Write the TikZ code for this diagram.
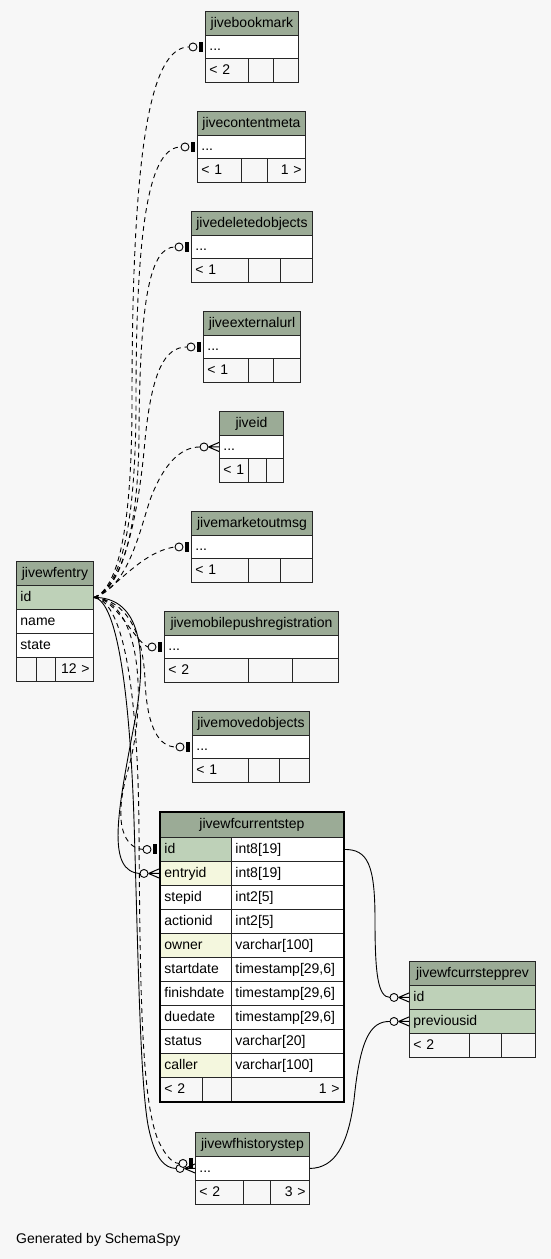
\documentclass[tikz,border=0pt]{standalone}
\usepackage{fontspec}
\setmainfont{Liberation Sans}
\definecolor{bg}{RGB}{247,247,247}
\definecolor{hdr}{RGB}{155,171,150}
\definecolor{pk}{RGB}{190,209,184}
\definecolor{fk}{RGB}{244,247,222}
\newcommand\cell[8]{%
  \pgfmathsetmacro\cellw{#4-8}%
  \node[cellbox,#6,minimum width=#4pt,minimum height=#5pt,text width=\cellw pt,align=#7] (#1) at (#2,#3) {#8};}
\tikzset{
  cellbox/.style={anchor=north west,draw=black!85,line width=0.9pt,inner xsep=4pt,inner ysep=0pt,
    text height=11pt,text depth=3pt,font=\fontsize{14}{16}\selectfont},
  hdrc/.style={fill=hdr},
  rowc/.style={fill=white},
  footc/.style={fill=bg},
  pkc/.style={fill=pk},
  fkc/.style={fill=fk},
  rel/.style={line width=0.9pt},
  implied/.style={rel,dash pattern=on 5pt off 4pt},
  zeroone/.pic={\fill (-6,-5) rectangle (-2.5,5); \draw[line width=0.9pt,fill=bg] (-12,0) circle[radius=4pt];},
  zeromany/.pic={\draw[line width=1pt] (-10.5,0) -- (0,-4.5) (-10.5,0) -- (0,0) (-10.5,0) -- (0,4.5);
                 \draw[line width=0.9pt,fill=bg] (-15,0) circle[radius=4pt];}
}
\begin{document}
\begin{tikzpicture}[x=1pt,y=-1pt]
\useasboundingbox[fill=bg] (0,0) rectangle (551,1259);
% jivebookmark
\cell{bm-h}{205}{11}{93}{24}{hdrc}{center}{jivebookmark}
\cell{bm-r}{205}{35}{93}{23}{rowc}{left}{...}
\cell{bm-f1}{205}{58}{43}{24}{footc}{left}{< 2}
\cell{bm-f2}{248}{58}{25}{24}{footc}{left}{}
\cell{bm-f3}{273}{58}{25}{24}{footc}{left}{}
% jivecontentmeta
\cell{cm-h}{197}{111}{108}{24}{hdrc}{center}{jivecontentmeta}
\cell{cm-r}{197}{135}{108}{23}{rowc}{left}{...}
\cell{cm-f1}{197}{158}{44}{24}{footc}{left}{< 1}
\cell{cm-f2}{241}{158}{26}{24}{footc}{left}{}
\cell{cm-f3}{267}{158}{38}{24}{footc}{right}{1 >}
% jivedeletedobjects
\cell{do-h}{191}{211}{121}{24}{hdrc}{center}{jivedeletedobjects}
\cell{do-r}{191}{235}{121}{23}{rowc}{left}{...}
\cell{do-f1}{191}{258}{57}{24}{footc}{left}{< 1}
\cell{do-f2}{248}{258}{32}{24}{footc}{left}{}
\cell{do-f3}{280}{258}{32}{24}{footc}{left}{}
% jiveexternalurl
\cell{eu-h}{203}{311}{97}{24}{hdrc}{center}{jiveexternalurl}
\cell{eu-r}{203}{335}{97}{23}{rowc}{left}{...}
\cell{eu-f1}{203}{358}{45}{24}{footc}{left}{< 1}
\cell{eu-f2}{248}{358}{25}{24}{footc}{left}{}
\cell{eu-f3}{273}{358}{27}{24}{footc}{left}{}
% jiveid
\cell{ji-h}{219}{411}{64}{24}{hdrc}{center}{jiveid}
\cell{ji-r}{219}{435}{64}{23}{rowc}{left}{...}
\cell{ji-f1}{219}{458}{29}{24}{footc}{left}{< 1}
\cell{ji-f2}{248}{458}{18}{24}{footc}{left}{}
\cell{ji-f3}{266}{458}{17}{24}{footc}{left}{}
% jivemarketoutmsg
\cell{mo-h}{191}{511}{121}{24}{hdrc}{center}{jivemarketoutmsg}
\cell{mo-r}{191}{535}{121}{23}{rowc}{left}{...}
\cell{mo-f1}{191}{558}{57}{24}{footc}{left}{< 1}
\cell{mo-f2}{248}{558}{32}{24}{footc}{left}{}
\cell{mo-f3}{280}{558}{32}{24}{footc}{left}{}
% jivemobilepushregistration
\cell{mp-h}{164}{611}{174}{24}{hdrc}{center}{jivemobilepushregistration}
\cell{mp-r}{164}{635}{174}{23}{rowc}{left}{...}
\cell{mp-f1}{164}{658}{84}{24}{footc}{left}{< 2}
\cell{mp-f2}{248}{658}{44}{24}{footc}{left}{}
\cell{mp-f3}{292}{658}{46}{24}{footc}{left}{}
% jivemovedobjects
\cell{mv-h}{192}{711}{117}{24}{hdrc}{center}{jivemovedobjects}
\cell{mv-r}{192}{735}{117}{23}{rowc}{left}{...}
\cell{mv-f1}{192}{758}{56}{24}{footc}{left}{< 1}
\cell{mv-f2}{248}{758}{31}{24}{footc}{left}{}
\cell{mv-f3}{279}{758}{30}{24}{footc}{left}{}
% jivewfentry
\cell{we-h}{16}{561}{77}{24}{hdrc}{center}{jivewfentry}
\cell{we-id}{16}{585}{77}{24}{pkc}{left}{id}
\cell{we-name}{16}{609}{77}{24}{rowc}{left}{name}
\cell{we-state}{16}{633}{77}{24}{rowc}{left}{state}
\cell{we-f1}{16}{657}{20}{24}{footc}{left}{}
\cell{we-f2}{36}{657}{19}{24}{footc}{left}{}
\cell{we-f3}{55}{657}{38}{24}{footc}{right}{12 >}
% jivewfcurrentstep
\cell{cs-h}{160}{812}{183}{25}{hdrc}{center}{jivewfcurrentstep}
\cell{cs-id}{160}{837}{71}{24}{pkc}{left}{id}
\cell{cs-idt}{231}{837}{112}{24}{rowc}{left}{int8[19]}
\cell{cs-entryid}{160}{861}{71}{24}{fkc}{left}{entryid}
\cell{cs-entryidt}{231}{861}{112}{24}{rowc}{left}{int8[19]}
\cell{cs-stepid}{160}{885}{71}{24}{rowc}{left}{stepid}
\cell{cs-stepidt}{231}{885}{112}{24}{rowc}{left}{int2[5]}
\cell{cs-actionid}{160}{909}{71}{24}{rowc}{left}{actionid}
\cell{cs-actionidt}{231}{909}{112}{24}{rowc}{left}{int2[5]}
\cell{cs-owner}{160}{933}{71}{24}{fkc}{left}{owner}
\cell{cs-ownert}{231}{933}{112}{24}{rowc}{left}{varchar[100]}
\cell{cs-start}{160}{957}{71}{24}{rowc}{left}{startdate}
\cell{cs-startt}{231}{957}{112}{24}{rowc}{left}{timestamp[29,6]}
\cell{cs-finish}{160}{981}{71}{24}{rowc}{left}{finishdate}
\cell{cs-finisht}{231}{981}{112}{24}{rowc}{left}{timestamp[29,6]}
\cell{cs-due}{160}{1005}{71}{24}{rowc}{left}{duedate}
\cell{cs-duet}{231}{1005}{112}{24}{rowc}{left}{timestamp[29,6]}
\cell{cs-status}{160}{1029}{71}{24}{rowc}{left}{status}
\cell{cs-statust}{231}{1029}{112}{24}{rowc}{left}{varchar[20]}
\cell{cs-caller}{160}{1053}{71}{24}{fkc}{left}{caller}
\cell{cs-callert}{231}{1053}{112}{24}{rowc}{left}{varchar[100]}
\cell{cs-f1}{160}{1077}{42}{24}{footc}{left}{< 2}
\cell{cs-f2}{202}{1077}{29}{24}{footc}{left}{}
\cell{cs-f3}{231}{1077}{112}{24}{footc}{right}{1 >}
\draw[line width=2.5pt] (cs-h.north west) rectangle (cs-f3.south east);
% jivewfcurrstepprev
\cell{cp-h}{409}{961}{126}{24}{hdrc}{center}{jivewfcurrstepprev}
\cell{cp-id}{409}{985}{126}{24}{pkc}{left}{id}
\cell{cp-prev}{409}{1009}{126}{24}{pkc}{left}{previousid}
\cell{cp-f1}{409}{1033}{60}{24}{footc}{left}{< 2}
\cell{cp-f2}{469}{1033}{32}{24}{footc}{left}{}
\cell{cp-f3}{501}{1033}{34}{24}{footc}{left}{}
% jivewfhistorystep
\cell{hs-h}{195}{1132}{114}{24}{hdrc}{center}{jivewfhistorystep}
\cell{hs-r}{195}{1156}{114}{24}{rowc}{left}{...}
\cell{hs-f1}{195}{1180}{48}{24}{footc}{left}{< 2}
\cell{hs-f2}{243}{1180}{27}{24}{footc}{left}{}
\cell{hs-f3}{270}{1180}{39}{24}{footc}{right}{3 >}
% connectors
\draw[implied] (we-id.east) .. controls (120,588) and (132,520) .. (132,400) .. controls (132,150) and (150,47) .. ([xshift=-16pt]bm-r.west);
\draw[implied] (we-id.east) .. controls (122,588) and (136,520) .. (136,400) .. controls (136,220) and (150,147) .. ([xshift=-16pt]cm-r.west);
\draw[implied] (we-id.east) .. controls (124,588) and (139,520) .. (139,430) .. controls (140,300) and (150,247) .. ([xshift=-16pt]do-r.west);
\draw[implied] (we-id.east) .. controls (126,588) and (140,500) .. (145,440) .. controls (152,370) and (165,347) .. ([xshift=-16pt]eu-r.west);
\draw[implied] (we-id.east) .. controls (128,588) and (140,530) .. (150,500) .. controls (163,465) and (180,447) .. ([xshift=-19pt]ji-r.west);
\draw[implied] (we-id.east) .. controls (115,590) and (140,552) .. ([xshift=-16pt]mo-r.west);
\draw[implied] (we-id.east) .. controls (115,597) and (135,642) .. ([xshift=-16pt]mp-r.west);
\draw[implied] (we-id.east) .. controls (125,600) and (143,630) .. (145,680) .. controls (147,730) and (160,747) .. ([xshift=-16pt]mv-r.west);
\draw[implied] (we-id.east) .. controls (140,600) and (148,700) .. (128,770) .. controls (112,825) and (125,849) .. ([xshift=-16pt]cs-id.west);
\draw[rel] (we-id.east) .. controls (135,597) and (150,640) .. (135,720) .. controls (118,810) and (105,873) .. ([xshift=-19pt]cs-entryid.west);
\draw[implied] (we-id.east) .. controls (125,600) and (138,700) .. (139,830) .. controls (140,1000) and (142,1100) .. (158,1140) .. controls (165,1155) and (172,1163) .. ([xshift=-16pt,yshift=5pt]hs-r.west);
\draw[rel] (we-id.east) .. controls (118,600) and (130,700) .. (134,820) .. controls (138,950) and (140,1080) .. (148,1125) .. controls (155,1160) and (165,1168) .. ([xshift=-19pt]hs-r.west);
\draw[rel] (cs-idt.east) .. controls (368,849) and (375,865) .. (375,920) .. controls (375,975) and (378,997) .. ([xshift=-19pt]cp-id.west);
\draw[rel] (hs-r.east) .. controls (335,1168) and (348,1145) .. (354,1100) .. controls (360,1040) and (370,1021) .. ([xshift=-19pt]cp-prev.west);
% end markers
\pic at (bm-r.west) {zeroone};
\pic at (cm-r.west) {zeroone};
\pic at (do-r.west) {zeroone};
\pic at (eu-r.west) {zeroone};
\pic at (ji-r.west) {zeromany};
\pic at (mo-r.west) {zeroone};
\pic at (mp-r.west) {zeroone};
\pic at (mv-r.west) {zeroone};
\pic at ([xshift=-1pt]cs-id.west) {zeroone};
\pic at ([xshift=-1pt]cs-entryid.west) {zeromany};
\pic at (hs-r.west) {zeromany};
\pic at ([yshift=5pt]hs-r.west) {zeroone};
\pic at (cp-id.west) {zeromany};
\pic at (cp-prev.west) {zeromany};
\node[anchor=base west,inner sep=0pt,font=\fontsize{14}{16}\selectfont] (gen) at (16,1243) {Generated by SchemaSpy};
\end{tikzpicture}
\end{document}
